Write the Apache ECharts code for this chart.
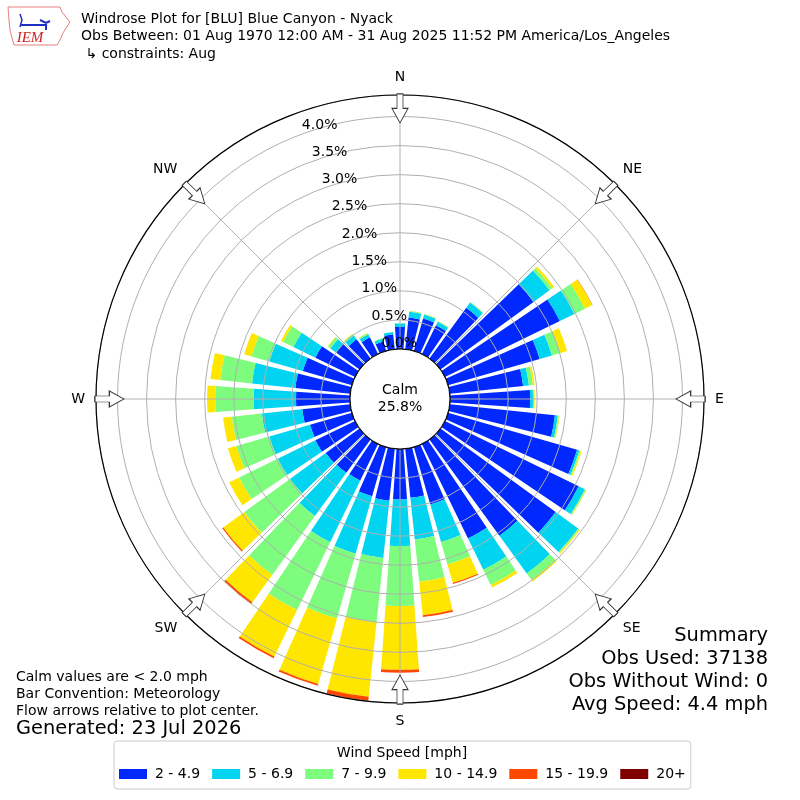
<!DOCTYPE html>
<html>
<head>
<meta charset="utf-8">
<title>Windrose Plot - Blue Canyon</title>
<script src="https://cdn.jsdelivr.net/npm/echarts@6.0.0/dist/echarts.min.js"></script>
<style>
  html, body { margin: 0; padding: 0; background: #fff; }
  #chart { width: 800px; height: 800px; }
</style>
</head>
<body>
<div id="chart"></div>
<script>
// wind direction sectors (deg, wind comes from), N clockwise
var directions = ['0', '10', '20', '30', '40', '50', '60', '70', '80', '90', '100', '110',
  '120', '130', '140', '150', '160', '170', '180', '190', '200', '210', '220', '230',
  '240', '250', '260', '270', '280', '290', '300', '310', '320', '330', '340', '350'];

var speedBins = ['2 - 4.9', '5 - 6.9', '7 - 9.9', '10 - 14.9', '15 - 19.9', '20+'];
var binColors = ['#0028ff', '#00d4f0', '#7dfc7d', '#ffe600', '#ff4800', '#800000'];

// frequency in percent per sector, one array per speed bin
var speed2to5 = [0.38, 0.55, 0.58, 0.55, 1.08, 1.98, 2.20, 1.64, 1.27, 1.38, 1.82, 2.31,
  2.56, 2.45, 2.05, 1.81, 1.03, 0.85, 0.87, 0.90, 0.88, 0.70, 0.71, 0.72,
  0.76, 0.75, 0.83, 0.93, 0.95, 0.88, 0.76, 0.50, 0.41, 0.32, 0.17, 0.26];
var speed5to7 = [0.06, 0.10, 0.07, 0.07, 0.11, 0.34, 0.28, 0.22, 0.10, 0.05, 0.05, 0.04,
  0.12, 0.48, 0.80, 0.60, 0.67, 0.72, 0.80, 0.99, 1.03, 1.18, 0.92, 0.76,
  0.72, 0.73, 0.70, 0.73, 0.75, 0.60, 0.42, 0.12, 0.08, 0.06, 0.05, 0.04];
var speed7to10 = [0.005, 0.01, 0.01, 0.01, 0.01, 0.06, 0.20, 0.15, 0.07, 0.02, 0.02, 0.02,
  0.02, 0.02, 0.14, 0.29, 0.40, 0.73, 1.03, 1.11, 1.16, 1.30, 1.25, 0.97,
  0.74, 0.59, 0.52, 0.66, 0.55, 0.32, 0.20, 0.05, 0.03, 0.02, 0.01, 0.005];
var speed10to15 = [0, 0.005, 0.005, 0.005, 0.005, 0.04, 0.14, 0.12, 0.03, 0.01, 0.01, 0.02,
  0.01, 0.02, 0.03, 0.05, 0.33, 0.58, 1.10, 1.29, 1.17, 0.89, 0.58, 0.45,
  0.19, 0.15, 0.15, 0.14, 0.17, 0.13, 0.04, 0.01, 0.01, 0.01, 0, 0];
var speed15to20 = [0, 0, 0, 0, 0, 0, 0.005, 0, 0, 0, 0, 0,
  0, 0, 0, 0, 0.02, 0.03, 0.05, 0.07, 0.03, 0.03, 0.04, 0.02,
  0, 0, 0, 0, 0, 0, 0, 0, 0, 0, 0, 0];
var speed20up = [0, 0, 0, 0, 0, 0, 0, 0, 0, 0, 0, 0,
  0, 0, 0, 0, 0, 0, 0, 0, 0, 0, 0, 0,
  0, 0, 0, 0, 0, 0, 0, 0, 0, 0, 0, 0];
var binValues = [speed2to5, speed5to7, speed7to10, speed10to15, speed15to20, speed20up];

var compassLabels = ['N', 'NE', 'E', 'SE', 'S', 'SW', 'W', 'NW'];
var compassAngles = [0, 45, 90, 135, 180, 225, 270, 315];

var calmPct = 25.8;
var radiusMax = 4.37;
var arrowR = 4.14;

var titleLines = [
  'Windrose Plot for [BLU] Blue Canyon - Nyack',
  'Obs Between: 01 Aug 1970 12:00 AM - 31 Aug 2025 11:52 PM America/Los_Angeles',
  ' \u21b3 constraints: Aug'
];
var noteLines = ['Calm values are < 2.0 mph', 'Bar Convention: Meteorology', 'Flow arrows relative to plot center.'];
var summaryLines = ['Summary', 'Obs Used: 37138', 'Obs Without Wind: 0', 'Avg Speed: 4.4 mph'];

var FONT = '"DejaVu Sans", sans-serif';
var CX = 400, CY = 399;

function txt(x, y, text, size, align, extra) {
  var el = {
    type: 'text', x: x, y: y, z: 20,
    style: {
      text: text, fill: '#000', font: size + 'px ' + FONT,
      textAlign: align, textVerticalAlign: 'middle', align: align, verticalAlign: 'middle'
    }
  };
  if (extra) Object.assign(el.style, extra);
  return el;
}

var graphics = [];
titleLines.forEach(function (t, i) { graphics.push(txt(81, 19 + i * 17.5, t, 14, 'left')); });
noteLines.forEach(function (t, i) { graphics.push(txt(16, 677 + i * 17, t, 14, 'left')); });
graphics.push(txt(16, 729, 'Generated: 23 Jul 2026', 19.4, 'left'));
summaryLines.forEach(function (t, i) { graphics.push(txt(768, 636 + i * 23, t, 19.4, 'right')); });
graphics.push(txt(402, 753, 'Wind Speed [mph]', 14, 'center'));

// calm hole in the middle
graphics.push({ type: 'circle', z: 15, shape: { cx: CX, cy: CY, r: 50 }, style: { fill: '#fff', stroke: '#000', lineWidth: 1 } });
graphics.push(txt(CX, 390, 'Calm', 14, 'center'));
graphics.push(txt(CX, 407, calmPct.toFixed(1) + '%', 14, 'center'));

// IEM logo (rough)
graphics.push({ type: 'polygon', z: 20, shape: { points: [[8, 7], [60, 7], [62, 12], [66, 17], [70, 22], [66, 28], [63, 33], [60, 40], [57, 45], [14, 45], [12, 38], [10, 30], [9, 20]] },
  style: { fill: 'none', stroke: '#e58080', lineWidth: 1 } });
graphics.push({ type: 'polyline', z: 20, shape: { points: [[20, 25], [46, 25], [46, 30]] }, style: { stroke: '#2030c0', lineWidth: 2, fill: 'none' } });
graphics.push({ type: 'polyline', z: 20, shape: { points: [[20, 14], [22, 20], [20, 27]] }, style: { stroke: '#2030c0', lineWidth: 1.5, fill: 'none' } });
graphics.push({ type: 'polyline', z: 20, shape: { points: [[40, 20], [46, 23], [50, 21]] }, style: { stroke: '#2030c0', lineWidth: 2, fill: 'none' } });
graphics.push(txt(30, 38, 'IEM', 15, 'center', { fill: '#d02020', font: 'italic 15px "Liberation Serif", serif' }));

var series = speedBins.map(function (name, i) {
  return {
    name: name, type: 'bar', coordinateSystem: 'polar', polarIndex: 0,
    stack: 'speed', data: binValues[i], barCategoryGap: '20%', z: 2,
    itemStyle: { color: binColors[i] }, silent: true
  };
});

series.push({
  name: 'arrows', type: 'scatter', coordinateSystem: 'polar', polarIndex: 1, z: 8, silent: true,
  symbol: 'path://M5,0 L11,0 L11,15 L16,15 L8,30 L0,15 L5,15 Z', symbolSize: [16, 29],
  itemStyle: { color: '#fff', borderColor: '#333', borderWidth: 1, opacity: 1 },
  data: compassAngles.map(function (a) { return { value: [arrowR, a], symbolRotate: -a }; })
});

var option = {
  animation: false,
  backgroundColor: '#fff',
  textStyle: { fontFamily: FONT },
  polar: [
    { center: [CX, CY], radius: [50, 304] },
    { center: [CX, CY], radius: [50, 304] },
    // only carries the % ring labels; shifted so the labels sit right of the 337.5 deg ray
    { center: [CX + 35, CY - 9], radius: [50, 304] }
  ],
  angleAxis: [
    { polarIndex: 0, type: 'category', data: directions, startAngle: 95, clockwise: true, boundaryGap: true,
      axisLine: { show: false }, axisTick: { show: false }, axisLabel: { show: false }, splitLine: { show: false }, splitArea: { show: false } },
    { polarIndex: 1, type: 'value', min: 0, max: 360, interval: 45, startAngle: 90, clockwise: true, z: 4,
      axisLine: { show: true, lineStyle: { color: '#000', width: 1.2 } },
      axisTick: { show: false },
      axisLabel: { show: true, margin: 11, fontSize: 14, color: '#000', fontFamily: FONT,
        formatter: function (v) { return v >= 360 ? '' : compassLabels[Math.round(v / 45)]; } },
      splitLine: { show: true, lineStyle: { color: '#b0b0b0', width: 1 } }, splitArea: { show: false } },
    { polarIndex: 2, type: 'value', min: 0, max: 360, startAngle: 110, clockwise: true,
      axisLine: { show: false }, axisTick: { show: false }, axisLabel: { show: false }, splitLine: { show: false }, splitArea: { show: false } }
  ],
  radiusAxis: [
    { polarIndex: 0, type: 'value', min: 0, max: radiusMax, interval: 0.5, z: 3,
      axisLine: { show: false }, axisTick: { show: false }, axisLabel: { show: false },
      splitLine: { show: true, lineStyle: { color: '#b0b0b0', width: 1 } }, splitArea: { show: false } },
    { polarIndex: 1, type: 'value', min: 0, max: radiusMax,
      axisLine: { show: false }, axisTick: { show: false }, axisLabel: { show: false }, splitLine: { show: false }, splitArea: { show: false } },
    { polarIndex: 2, type: 'value', min: 0, max: radiusMax, interval: 0.5, z: 16,
      axisLine: { show: false }, axisTick: { show: false }, splitLine: { show: false }, splitArea: { show: false },
      axisLabel: { show: true, margin: 1, fontSize: 14, color: '#000', fontFamily: FONT, showMaxLabel: false,
        formatter: function (v) {
          var k = v / 0.5;
          if (Math.abs(k - Math.round(k)) > 1e-6) return '';
          return v.toFixed(1) + '%';
        } } }
  ],
  legend: {
    data: speedBins, left: 114, top: 741, orient: 'horizontal', icon: 'rect',
    itemWidth: 28, itemHeight: 10, itemGap: 12, padding: [26, 5, 8, 5],
    borderColor: '#cccccc', borderWidth: 1, borderRadius: 3, backgroundColor: '#fff',
    selectedMode: false,
    textStyle: { fontSize: 14, color: '#000', fontFamily: FONT, padding: [0, 0, 0, 3] }
  },
  graphic: graphics,
  series: series
};

var myChart = echarts.init(document.getElementById('chart'), null, { renderer: 'canvas' });
myChart.setOption(option);
</script>
</body>
</html>
